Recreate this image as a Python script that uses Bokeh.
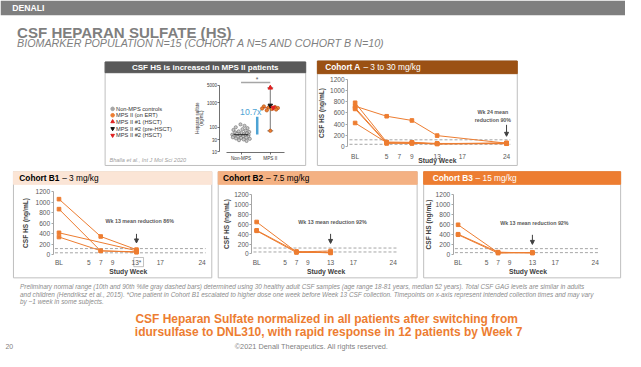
import numpy as np
from bokeh.plotting import figure
from bokeh.models import (Range1d, LinearAxis, FixedTicker, CustomJSTickFormatter,
                          Arrow, NormalHead)
from bokeh.core.properties import value
from bokeh.embed import file_html
from bokeh.resources import INLINE

# ---------------- data ----------------
week_ticks = [0, 5, 7, 9, 13, 17, 24]
hs_ticks = [0, 200, 400, 600, 800, 1000, 1200]
normal_range = [40, 120]          # 10th / 90th percentile (gray dashed)

cohort_a_weeks = [0, 5, 9, 13, 24]
cohort_a_hs = [
    [720, 540, 465, 195, 60],
    [780, 80, 75, 55, 55],
    [690, 65, 55, 50, 50],
    [670, 55, 70, 45, 60],
    [420, 70, 60, 50, 65],
]
cohort_b1_weeks = [[0, 7, 13], [0, 7, 13], [0, 13], [0, 7, 13]]
cohort_b1_hs = [[1060, 350, 100], [870, 75, 60], [420, 80], [340, 80, 50]]
cohort_b2_weeks = [0, 7, 13]
cohort_b2_hs = [[650, 40, 60], [480, 50, 20], [470, 30, 30]]
cohort_b3_weeks = [0, 7, 13]
cohort_b3_hs = [[600, 40, 40], [410, 50, 30], [400, 30, 45]]

# literature panel (Bhalla et al. 2020)
lit_groups = {1: "Non-MPS", 2: "MPS II"}
lit_ticks = [10, 30, 100, 1000, 5000]
lit_nonmps_hs = [128, 112, 98, 90, 82, 76, 71, 67, 63, 60, 57, 55, 53, 51, 49,
                 48, 46, 45, 44, 42, 41, 40, 38, 37, 36, 34, 33, 31, 29, 27]
lit_nonmps_jit = [-0.02, 0.12, -0.18, 0.22, 0.05, -0.26, 0.16, -0.08, 0.28, -0.2,
                  0.02, 0.2, -0.14, 0.1, -0.3, 0.26, -0.04, 0.14, -0.24, 0.07,
                  0.24, -0.11, -0.28, 0.18, 0.0, -0.17, 0.3, 0.09, -0.07, 0.19]
lit_ert_hs = [700, 660, 630, 600, 570, 545, 515, 480, 70]
lit_ert_jit = [-0.22, 0.16, -0.06, 0.26, -0.28, 0.05, 0.2, -0.12, 0.0]
lit_hsct1_hs = [4000]
lit_pre_hs = [760]
lit_hsct2_hs = [620]
lit_legend = ["Non-MPS controls", "MPS II (on ERT)", "MPS II #1 (HSCT)",
              "MPS II #2 (pre-HSCT)", "MPS II #2 (HSCT)"]

footnote = [
    "Preliminary normal range (10th and 90th %ile gray dashed bars) determined using 30 healthy adult CSF samples (age range 18-81 years, median 52 years). Total CSF GAG levels are similar in adults",
    "and children (Hendriksz et al., 2015). *One patient in Cohort B1 escalated to higher dose one week before Week 13 CSF collection. Timepoints on x-axis represent intended collection times and may vary",
    "by ~1 week in some subjects.",
]
conclusion = [
    "CSF Heparan Sulfate normalized in all patients after switching from",
    "idursulfase to DNL310, with rapid response in 12 patients by Week 7",
]

# ---------------- styles ----------------
ORANGE = "#ED7D31"
GRAY_TXT = "#7f7f7f"
W, H = 641, 367
PW, PH = 625, 351
F = (PW / W + PH / H) / 2
FONT = "Liberation Sans"

p = figure(width=PW, height=PH, x_range=Range1d(0, W), y_range=Range1d(H, 0),
           output_backend="svg", toolbar_location=None, min_border=0,
           x_axis_type=None, y_axis_type=None, outline_line_color=None,
           background_fill_color="white", border_fill_color="white")


def fpx(px):
    return f"{px * F:.2f}px"


def fsz(px):
    return value(fpx(px))


def txt(x, y, s, size, color="#000000", style="normal", align="left",
        baseline="middle", angle=0.0, rn=None):
    kw = dict(x_range_name=rn, y_range_name=rn) if rn else {}
    p.text(x=[x], y=[y], text=[s], text_font=value(FONT), text_font_size=fsz(size),
           text_color=color, text_font_style=style, text_align=align,
           text_baseline=baseline, angle=angle, **kw)


def box(l, r, t, b, fill=None, line=None, lw=1.0):
    p.quad(left=[l], right=[r], top=[t], bottom=[b], fill_color=fill,
           line_color=line, line_width=lw)


def chart_ranges(name, xd, xp, yd, yp):
    (xd0, xd1), (xp0, xp1) = xd, xp
    kx = (xd1 - xd0) / (xp1 - xp0)
    p.extra_x_ranges[name] = Range1d(xd0 - xp0 * kx, xd0 + (W - xp0) * kx)
    (yd0, yd1), (yp0, yp1) = yd, yp
    ky = (yd1 - yd0) / (yp1 - yp0)
    p.extra_y_ranges[name] = Range1d(yd0 + (H - yp0) * ky, yd0 - yp0 * ky)


# ---------------- slide frame ----------------
box(0, W, 0, 15.5, fill="#7f7f7f", line=None)
txt(12, 8, "DENALI", 9, "white", style="bold")
txt(17, 33.3, "CSF HEPARAN SULFATE (HS)", 15.6, GRAY_TXT, style="bold")
txt(17, 44.0, "BIOMARKER POPULATION N=15 (COHORT A N=5 AND COHORT B N=10)", 11.1,
    GRAY_TXT, style="italic")

# ---------------- literature panel ----------------
box(107.3, 313, 64.3, 172.5, line="#bfbfbf")
box(107.3, 313, 64.3, 75.5, fill="#595959", line="#595959")
txt(210, 70, "CSF HS is increased in MPS II patients", 8.3, "white", style="bold", align="center")

leg_y = [113.3, 120, 126.7, 134, 141]
leg_marker = ["circle", "circle", "triangle", "inverted_triangle", "inverted_triangle"]
leg_color = ["#a6a6a6", ORANGE, "#e02020", "#111111", "#e02020"]
for yy, lab, mk, c in zip(leg_y, lit_legend, leg_marker, leg_color):
    p.scatter(x=[115], y=[yy], marker=mk, size=3.6, fill_color=c, line_color=c)
    txt(118.5, yy, lab, 5.9, "#333333")
txt(111.7, 166.7, "Bhalla et al., Int J Mol Sci 2020", 5.8, "#a0a0a0", style="italic")

chart_ranges("lit", (1, 2), (246.7, 276.7), (1, 3), (157.9, 106.7))
rl = dict(x_range_name="lit", y_range_name="lit")
lg = np.log10
ly = LinearAxis(x_range_name="lit", y_range_name="lit", fixed_location=0.28,
                bounds=(1, float(lg(5000))), ticker=FixedTicker(ticks=[float(v) for v in lg(lit_ticks)]),
                formatter=CustomJSTickFormatter(code="return String(Math.round(Math.pow(10, tick)));"),
                major_label_text_font_size=fpx(4.6), major_label_text_color="#333333",
                major_label_text_font=FONT, major_tick_out=2, major_tick_in=0,
                major_label_standoff=1, axis_line_color="#333333", axis_line_width=0.7,
                major_tick_line_color="#333333", major_tick_line_width=0.7)
p.add_layout(ly, "left")
lx = LinearAxis(x_range_name="lit", y_range_name="lit", fixed_location=0.95,
                bounds=(0.5, 2.5), ticker=FixedTicker(ticks=[1, 2]),
                major_label_overrides=lit_groups,
                major_label_text_font_size=fpx(4.8), major_label_text_color="#333333",
                major_label_text_font=FONT, major_tick_out=2, major_tick_in=0,
                major_label_standoff=1, axis_line_color="#333333", axis_line_width=0.7,
                major_tick_line_color="#333333", major_tick_line_width=0.7)
p.add_layout(lx, "below")
txt(201.7, 123, "Heparan sulfate", 4.6, "#333333", align="center", angle=np.pi / 2)
txt(206.3, 123, "(ng/mL)", 4.6, "#333333", align="center", angle=np.pi / 2)

p.line(x=[1, 2], y=[3.82, 3.82], line_color="#a6a6a6", line_width=1.5, **rl)
txt(1.55, 3.95, "*", 7, "#595959", align="center", rn="lit")
p.scatter(x=1 + np.array(lit_nonmps_jit), y=lg(lit_nonmps_hs), marker="circle", size=3.2,
          fill_color="#c8c8c8", line_color="#595959", line_width=0.5, **rl)
med0 = float(lg(np.median(lit_nonmps_hs)))
p.line(x=[0.75, 1.25], y=[med0, med0], line_color="#222222", line_width=1, **rl)
all_mps = lit_ert_hs + lit_hsct1_hs + lit_pre_hs + lit_hsct2_hs
lo, hi = float(lg(min(all_mps))), float(lg(max(all_mps)))
p.line(x=[2, 2], y=[lo, hi], line_color="#555555", line_width=0.8, **rl)
p.line(x=[1.9, 2.1], y=[hi, hi], line_color="#555555", line_width=0.8, **rl)
p.line(x=[1.9, 2.1], y=[lo, lo], line_color="#555555", line_width=0.8, **rl)
med1 = float(lg(np.median(all_mps)))
p.line(x=[1.7, 2.3], y=[med1, med1], line_color="#c0392b", line_width=1, **rl)
p.scatter(x=2 + np.array(lit_ert_jit), y=lg(lit_ert_hs), marker="circle", size=3.4,
          fill_color=ORANGE, line_color="#a04000", line_width=0.5, **rl)
p.scatter(x=[2], y=lg(lit_hsct1_hs), marker="triangle", size=4.5, fill_color="#e02020",
          line_color="#e02020", **rl)
p.scatter(x=[2], y=lg(lit_pre_hs), marker="inverted_triangle", size=4.5, fill_color="#111111",
          line_color="#111111", **rl)
p.scatter(x=[2.1], y=lg(lit_hsct2_hs), marker="inverted_triangle", size=4.5, fill_color="#e02020",
          line_color="#e02020", **rl)
p.line(x=[1.553, 1.553], y=[float(lg(50)), float(lg(260))], line_color="#4da3d4", line_width=2.5, **rl)
txt(1.33, 2.6, "10.7x", 9, "#4da3d4", align="center", rn="lit")

# ---------------- cohort charts ----------------
def cohort(name, hdr, hdr_fill, hdr_txt_color, bold, rest, hdr_x, xpix, ypix,
           axis_px, xlab_px, title_standoff, weeks_list, hs_list, overrides,
           ann_lines, ann_xy, arrow_week, arrow_px, sw_xy):
    l, r, t, b = hdr
    box(l, r, t, b, line="#bfbfbf")
    hb = t + 13.2
    box(l, r, t, hb, fill=hdr_fill, line=hdr_fill)
    hy = (t + hb) / 2
    txt(hdr_x, hy, bold, 8.6, hdr_txt_color, style="bold")
    bw = {"Cohort A": 4.277, "Cohort B1": 4.833, "Cohort B2": 4.833, "Cohort B3": 4.833}[bold]
    txt(hdr_x + bw * 8.6 + 2.4, hy, rest, 8.6, hdr_txt_color)

    chart_ranges(name, (0, 24), xpix, (0, 1200), ypix)
    rn = dict(x_range_name=name, y_range_name=name)
    kx = 24 / (xpix[1] - xpix[0])
    ky = 1200 / (ypix[0] - ypix[1])
    ax_x = (axis_px - xpix[0]) * kx
    for v in normal_range:
        p.line(x=[ax_x + 0.3, 24.6], y=[v, v], line_color="#a6a6a6", line_dash="3 2",
               line_width=1, **rn)
    for wk, hs in zip(weeks_list, hs_list):
        p.line(x=wk, y=hs, line_color=ORANGE, line_width=1, **rn)
        p.scatter(x=wk, y=hs, marker="square", size=3.6, fill_color=ORANGE,
                  line_color=ORANGE, **rn)
    yax = LinearAxis(x_range_name=name, y_range_name=name, fixed_location=ax_x,
                     bounds=(0, 1200), ticker=FixedTicker(ticks=hs_ticks),
                     axis_label="CSF HS (ng/mL)", axis_label_standoff=title_standoff,
                     axis_label_text_font_size=fpx(6.8), axis_label_text_font_style="bold",
                     axis_label_text_color="#404040", axis_label_text_font=FONT,
                     major_label_text_font_size=fpx(6.8), major_label_text_color="#595959",
                     major_label_text_font=FONT, major_tick_out=2, major_tick_in=0,
                     major_label_standoff=1, axis_line_color="#a6a6a6",
                     major_tick_line_color="#a6a6a6")
    p.add_layout(yax, "left")
    xax = LinearAxis(x_range_name=name, y_range_name=name,
                     fixed_location=(ypix[0] - xlab_px) * ky,
                     bounds=(0, 24), ticker=FixedTicker(ticks=week_ticks),
                     major_label_overrides=overrides,
                     major_label_text_font_size=fpx(6.8), major_label_text_color="#595959",
                     major_label_text_font=FONT, major_tick_out=0, major_tick_in=0,
                     major_label_standoff=1, axis_line_color=None,
                     major_tick_line_color=None)
    p.add_layout(xax, "below")
    for i, line in enumerate(ann_lines):
        txt(ann_xy[0], ann_xy[1] + i * 8.3, line, 5.5, "#595959", style="bold", align="center")
    arrow = Arrow(end=NormalHead(size=4, fill_color="#404040", line_color="#404040"),
                  x_start=arrow_week, x_end=arrow_week,
                  y_start=(ypix[0] - arrow_px[0]) * ky, y_end=(ypix[0] - arrow_px[1]) * ky,
                  line_color="#404040", line_width=1, **rn)
    p.add_layout(arrow)
    txt(sw_xy[0], sw_xy[1], "Study Week", 7.0, "#404040", style="bold", align="center")


cohort("A", (325, 530, 63.3, 172.5), "#9b5114", "white", "Cohort A", "– 3 to 30 mg/kg", 333,
       (363.7, 519), (152.7, 82.3), 356, 158, 2,
       [cohort_a_weeks] * len(cohort_a_hs), cohort_a_hs, {0: "BL"},
       ["Wk 24 mean", "reduction 90%"], (505, 116.7), 24, (130, 142), (448, 167.3))
cohort("B1", (13.3, 216.7, 179, 290), "#FBE5D6", "#000000", "Cohort B1", "– 3 mg/kg", 19.3,
       (60, 206.7), (266, 200), 54, 269.3, 4,
       cohort_b1_weeks, cohort_b1_hs, {0: "BL", 13: "13*"},
       ["Wk 13 mean reduction 86%"], (142.8, 231), 13, (244, 253.5), (131, 283.5))
box(136.7, 146.7, 268.7, 278.3, line="#a6a6a6", lw=0.7)
cohort("B2", (223.3, 427.3, 179, 290), "#F4B183", "#000000", "Cohort B2", "– 7.5 mg/kg", 228.3,
       (262.7, 402.7), (265, 203.3), 257.7, 269.3, 1,
       [cohort_b2_weeks] * len(cohort_b2_hs), cohort_b2_hs, {0: "BL"},
       ["Wk 13 mean reduction 92%"], (340.5, 231.7), 13, (244, 254), (334, 283.5))
cohort("B3", (434, 636, 179, 290), ORANGE, "white", "Cohort B3", "– 15 mg/kg", 443.3,
       (469.3, 610), (265.7, 203.3), 464.3, 269.3, 1,
       [cohort_b3_weeks] * len(cohort_b3_hs), cohort_b3_hs, {0: "BL"},
       ["Wk 13 mean reduction 92%"], (547.5, 232.3), 13, (245, 255), (541, 283.5))

# ---------------- footer ----------------
for i, line in enumerate(footnote):
    txt(20, 299 + i * 8.0, line, 6.65, "#8c8c8c", style="italic")
txt(334.5, 333.3, conclusion[0], 12.4, ORANGE, style="bold", align="center")
txt(336.5, 346.2, conclusion[1], 12.4, ORANGE, style="bold", align="center")
txt(5, 361.5, "20", 7.2, GRAY_TXT)
txt(319, 361.7, "©2021 Denali Therapeutics. All rights reserved.", 7.6, GRAY_TXT, align="center")

open("out.html", "w").write(file_html(p, INLINE))
